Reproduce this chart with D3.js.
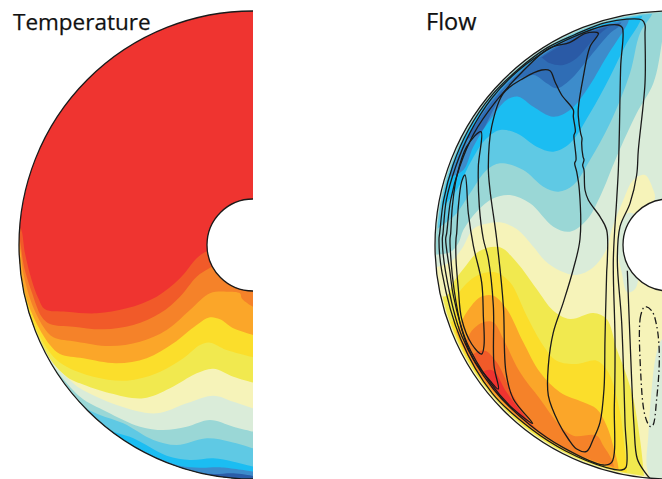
<!DOCTYPE html>
<html>
<head>
<meta charset="utf-8">
<script src="https://cdn.jsdelivr.net/npm/d3@7"></script>
<style>
  html, body { margin: 0; padding: 0; background: #fff; }
  svg { display: block; }
  text { font-family: "Open Sans", sans-serif; fill: #111; stroke: #111; stroke-width: 0.25px; }
</style>
</head>
<body>
<svg id="chart" width="662" height="479"></svg>
<script>
// every contour is a list of [s, z]: s = distance from the axis, z = height (down is positive)
// the outer sphere has radius 702 and the inner sphere radius 138 in these units

const tempColors = ["#f15a29", "#f58229", "#fba629", "#fbde2b", "#f1e94f", "#f6f3b9", "#daecd9", "#9ad7d6", "#5fc9e4", "#1bbdf2", "#3d8ccb", "#2a5da8"];

const temp1 = [[705,-60],[695,-45],[684,25],[664,105],[644,160],[624,193],[559,200],[469,205],[379,190],[289,155],[219,100],[169,40],[142,20],[100,10],[50,10],[-10,10]];
const temp2 = [[702,-30],[696,5],[687,65],[664,140],[634,215],[609,237],[539,245],[449,253],[359,240],[279,205],[219,155],[169,95],[131,70],[100,50],[50,40],[-10,40]];
const temp3 = [[702,0],[698,15],[689,85],[664,175],[629,245],[599,277],[529,290],[429,303],[339,290],[259,255],[189,195],[129,145],[79,140],[39,145],[34,160],[14,177],[-10,190]];
const temp4 = [[700,30],[689,125],[659,215],[609,300],[579,327],[509,340],[409,355],[319,340],[239,295],[169,240],[129,217],[99,223],[59,250],[-1,270]];
const temp5 = [[702,45],[680,165],[649,255],[599,335],[559,365],[479,395],[379,407],[289,385],[209,340],[159,300],[129,293],[79,315],[-1,337]];
const temp6 = [[702,70],[675,190],[625,320],[559,395],[519,415],[429,445],[329,460],[249,430],[169,385],[119,371],[59,395],[-1,413]];
const temp7 = [[702,120],[655,250],[600,355],[544,410],[519,430],[409,480],[289,505],[199,475],[119,452],[59,470],[-1,490]];
const temp8 = [[610,350],[519,455],[439,500],[339,545],[269,555],[199,545],[129,525],[59,545],[-1,560]];
const temp9 = [[560,425],[500,490],[459,510],[389,535],[299,585],[229,600],[139,580],[69,590],[-1,610]];
const temp10 = [[520,470],[440,550],[359,580],[259,632],[189,645],[119,640],[59,650],[-1,665]];
const temp11 = [[380,592],[300,632],[219,662],[159,668],[99,667],[-1,680]];
const temp12 = [[231,663],[180,680],[119,687],[59,685],[-1,693]];
const tempLevels = [temp1, temp2, temp3, temp4, temp5, temp6, temp7, temp8, temp9, temp10, temp11, temp12];

const flowBlueColors = ["#9ad7d6", "#5fc9e4", "#1bbdf2", "#3d8ccb", "#2f6db5", "#2a5aa6"];
const flowBlue1 = [[720,30],[657,22],[632,-5],[617,-45],[577,-100],[527,-140],[477,-150],[417,-125],[347,-55],[297,-40],[247,-75],[207,-145],[157,-265],[97,-395],[47,-485],[21,-610],[10,-710]];
const flowBlue2 = [[700,-45],[672,-65],[637,-95],[597,-155],[547,-225],[507,-245],[437,-225],[377,-175],[332,-160],[287,-180],[237,-255],[177,-365],[117,-515],[87,-635],[52,-690],[40,-720]];
const flowBlue3 = [[710,-110],[682,-115],[637,-165],[597,-245],[552,-315],[507,-345],[457,-335],[397,-295],[347,-280],[297,-305],[237,-395],[177,-505],[127,-605],[87,-670],[70,-720]];
const flowBlue4 = [[680,-205],[657,-205],[617,-225],[587,-295],[537,-375],[487,-435],[452,-445],[407,-415],[347,-385],[297,-405],[247,-465],[187,-565],[132,-650],[122,-670],[110,-720]];
const flowBlue5 = [[640,-310],[600,-320],[567,-335],[527,-405],[487,-475],[407,-510],[367,-485],[337,-470],[297,-495],[237,-565],[177,-635],[147,-660],[130,-720]];
const flowBlue6 = [[520,-520],[417,-565],[387,-565],[357,-545],[317,-540],[277,-560],[237,-605],[187,-650],[162,-665],[150,-720]];
const flowBlueLevels = [flowBlue1, flowBlue2, flowBlue3, flowBlue4, flowBlue5, flowBlue6];
const flowBlueInsets = [3, 6, 10, 14, 18, 22];

const flowWarmColors = ["#f6f3b9", "#f1e94f", "#fbde2b", "#fba629", "#f58229", "#f15a29", "#ef3330"];
const flowWarm1 = [[720,72],[657,52],[622,12],[587,-48],[552,-63],[507,-68],[457,-48],[407,5],[372,47],[327,77],[277,90],[227,67],[187,12],[172,-45],[137,-135],[107,-195],[72,-210],[47,-165],[42,-145],[60,-60],[60,60],[40,100],[0,140],[5,270],[21,282],[37,322],[52,432],[62,572],[67,662],[52,712]];
const flowWarm2 = [[720,150],[667,152],[647,112],[617,72],[567,17],[507,7],[457,52],[397,132],[347,197],[297,222],[227,204],[187,222],[157,312],[127,392],[107,462],[87,582],[77,672],[70,760]];
const flowWarm3 = [[720,232],[652,232],[632,147],[577,92],[522,82],[477,112],[427,212],[377,302],[337,347],[277,357],[217,347],[182,382],[147,502],[132,622],[127,672],[125,760]];
const flowWarm4 = [[720,272],[652,272],[607,202],[567,157],[527,152],[487,192],[437,292],[387,382],[327,442],[257,472],[217,492],[187,542],[162,622],[152,667],[150,760]];
const flowWarm5 = [[720,302],[627,302],[587,252],[557,232],[527,232],[497,282],[447,382],[387,462],[327,542],[287,572],[217,572],[197,602],[167,657],[165,760]];
const flowWarm6 = [[720,362],[610,362],[587,327],[552,317],[517,352],[467,452],[407,542],[357,582],[317,622],[300,700]];
const flowWarm7 = [[720,402],[577,402],[552,377],[527,377],[487,442],[427,522],[407,547],[380,700]];
const flowWarmLevels = [flowWarm1, flowWarm2, flowWarm3, flowWarm4, flowWarm5, flowWarm6, flowWarm7];
const flowWarmInsets = [0, 5, 8, 12, 16, 20, 24];

// pale green sliver between the last streamline and the inner sphere
const flowPatch = [[125,-95],[147,-55],[155,12],[142,82],[125,142],[100,130],[90,0],[100,-90]];

const stream1 = [[612,-210],[602,-95],[587,2],[562,112],[557,212],[555,302],[562,327],[592,297],[622,222],[632,132],[639,42],[639,-18],[637,-35],[632,-115],[622,-190]];
const stream2 = [[564,-340],[572,-235],[569,-115],[557,-18],[542,42],[527,182],[525,362],[512,432],[537,407],[587,342],[622,252],[645,132],[655,32],[657,-18],[655,-35],[650,-115],[637,-205],[607,-295]];
const stream3 = [[212,-635],[237,-595],[257,-505],[272,-410],[272,-385],[265,-335],[261,-320],[262,-305],[258,-265],[255,-255],[259,-240],[255,-225],[252,-165],[242,-135],[207,-85],[187,-45],[185,45],[187,82],[192,282],[195,432],[207,532],[227,582],[247,619],[277,612],[302,582],[332,532],[362,452],[362,362],[347,262],[317,172],[287,72],[267,-18],[269,-165],[277,-220],[283,-245],[279,-255],[281,-285],[284,-310],[285,-330],[281,-340],[287,-385],[287,-405],[322,-450],[342,-490],[357,-523],[382,-525],[437,-500],[497,-455],[532,-355],[542,-235],[537,-165],[517,-18],[497,182],[489,382],[467,462],[409,535],[467,492],[537,412],[607,292],[647,152],[657,82],[670,-18],[667,-35],[655,-135],[628,-235],[585,-335],[520,-430],[440,-520],[360,-590],[297,-608],[250,-635]];
const stream4 = [[140,-652],[145,-535],[149,-335],[152,-225],[157,-135],[167,45],[162,282],[164,482],[172,652],[197,660],[317,608],[417,540],[527,432],[622,272],[670,82],[680,-18],[678,-35],[668,-135],[640,-235],[598,-335],[532,-440],[450,-525],[365,-585],[285,-625],[197,-657],[152,-660]];
const stream5 = [[81,-675],[72,-660],[72,-635],[72,-485],[92,-285],[97,-210],[117,-125],[147,-55],[155,45],[142,232],[132,532],[129,667],[142,675],[187,668],[310,618],[412,553],[530,445],[625,282],[681,82],[690,-18],[688,-35],[676,-135],[648,-240],[602,-345],[535,-445],[452,-527],[365,-592],[285,-630],[187,-668]];
const stream6 = [[125,77],[117,282],[105,542],[95,642],[72,682],[57,700]];
const streamDash = [[72,185],[85,212],[85,382],[72,512],[57,544],[49,542],[37,462],[29,332],[37,242],[52,197]];

const outerRadius = 702;
const innerRadius = 138;
const bound = 780;

const svg = d3.select("#chart");
const defs = svg.append("defs");

function makePanel(id, axisX, title, titleX, titleSize) {
  const x = d3.scaleLinear().domain([0, outerRadius]).range([axisX, axisX - 234]);
  const y = d3.scaleLinear().domain([-outerRadius, outerRadius]).range([11, 479]);
  const k = 234 / outerRadius;
  const g = svg.append("g");

  const arc = (inset) => d3.arc()
    .innerRadius(innerRadius * k)
    .outerRadius((outerRadius - inset) * k)
    .startAngle(-Math.PI)
    .endAngle(0)();

  // one clip per wall inset, so bands can stop short of the wall
  function clip(inset) {
    const name = id + "-clip-" + inset;
    if (defs.select("#" + name).empty()) {
      defs.append("clipPath").attr("id", name)
        .append("path").attr("transform", `translate(${axisX},${y(0)})`).attr("d", arc(inset));
    }
    return `url(#${name})`;
  }

  const contour = d3.line().x(d => x(d[0])).y(d => y(d[1])).curve(d3.curveCatmullRom.alpha(0.5));
  const closedLine = d3.line().x(d => x(d[0])).y(d => y(d[1])).curve(d3.curveCatmullRomClosed.alpha(0.5));
  const corner = (p) => "L" + x(p[0]) + "," + y(p[1]);

  function band(points, color, side, inset) {
    const first = points[0], last = points[points.length - 1];
    const d = contour(points) + corner([last[0], side * bound]) + corner([bound, side * bound]) + corner([bound, first[1]]) + "Z";
    g.append("path").attr("d", d).attr("fill", color).attr("clip-path", clip(inset));
  }

  function stream(points, closed, dash) {
    g.append("path")
      .attr("d", (closed ? closedLine : contour)(points))
      .attr("fill", "none")
      .attr("stroke", "#1a1a1a")
      .attr("stroke-width", 1.3)
      .attr("stroke-dasharray", dash || null)
      .attr("clip-path", clip(0));
  }

  function base(color) {
    g.append("path").attr("transform", `translate(${axisX},${y(0)})`).attr("d", arc(0)).attr("fill", color);
  }

  function outline() {
    [outerRadius, innerRadius].forEach(r => {
      const a = d3.arc().innerRadius(r * k).outerRadius(r * k).startAngle(-Math.PI).endAngle(0)();
      g.append("path").attr("transform", `translate(${axisX},${y(0)})`).attr("d", a)
        .attr("fill", "none").attr("stroke", "#1a1a1a").attr("stroke-width", 1.3);
    });
    g.append("text").attr("x", titleX).attr("y", 30).attr("font-size", titleSize).text(title);
  }

  function patch(points, color) {
    g.append("path").attr("d", closedLine(points)).attr("fill", color).attr("clip-path", clip(0));
  }

  return { band, stream, base, outline, patch };
}

// temperature: red base, colder bands painted upward from the bottom
const tempPanel = makePanel("temp", 253, "Temperature", 13, 22.5);
tempPanel.base("#ef3430");
tempLevels.forEach((pts, i) => tempPanel.band(pts, tempColors[i], 1, 0));
tempPanel.outline();

// flow: pale green base, blue levels from the top, warm levels from the bottom
const flowPanel = makePanel("flow", 669, "Flow", 426, 23.5);
flowPanel.base("#daecd9");
flowBlueLevels.forEach((pts, i) => flowPanel.band(pts, flowBlueColors[i], -1, flowBlueInsets[i]));
flowWarmLevels.forEach((pts, i) => flowPanel.band(pts, flowWarmColors[i], 1, flowWarmInsets[i]));
flowPanel.patch(flowPatch, "#daecd9");

[stream1, stream2, stream3, stream4, stream5].forEach(pts => flowPanel.stream(pts, true));
flowPanel.stream(stream6, false);
flowPanel.stream(streamDash, true, "7 3 1.5 3");
flowPanel.outline();
</script>
</body>
</html>
